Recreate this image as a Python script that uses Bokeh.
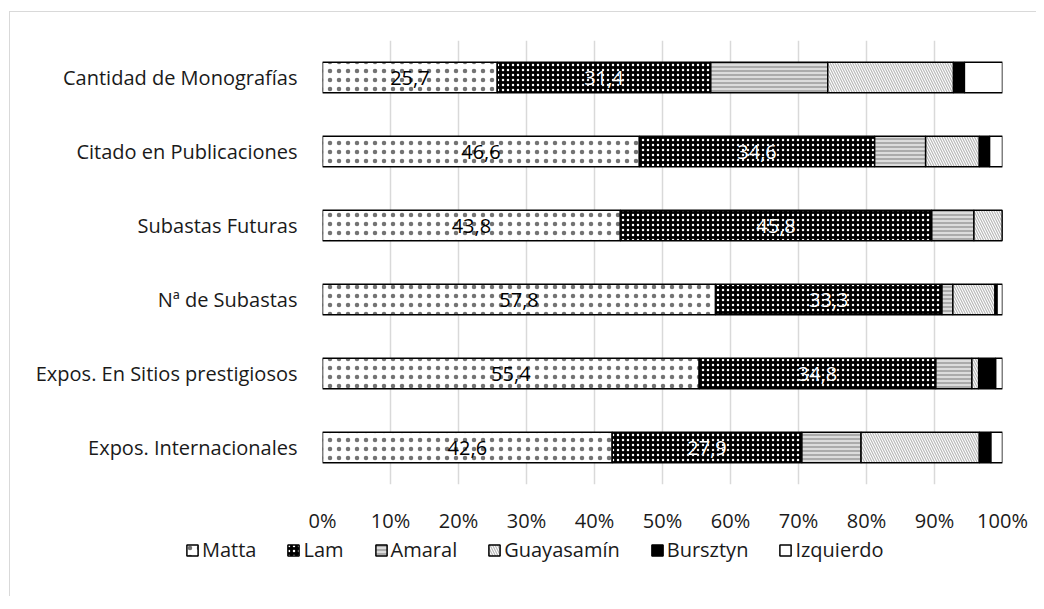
from bokeh.plotting import figure
from bokeh.models import FactorRange, Legend, LegendItem, ColumnDataSource, FixedTicker, CustomJSTickFormatter
from bokeh.layouts import column
from bokeh.core.properties import value
from bokeh.transform import stack
from bokeh.embed import file_html
from bokeh.resources import INLINE

categories = ["Cantidad de Monografías", "Citado en Publicaciones", "Subastas Futuras",
              "Nª de Subastas", "Expos. En Sitios prestigiosos", "Expos. Internacionales"]
series = ["Matta", "Lam", "Amaral", "Guayasamín", "Bursztyn", "Izquierdo"]
matta = [25.7, 46.6, 43.8, 57.8, 55.4, 42.6]
lam = [31.4, 34.6, 45.8, 33.3, 34.8, 27.9]
amaral = [17.2, 7.5, 6.2, 1.6, 5.3, 8.7]
guayasamin = [18.5, 7.9, 4.2, 6.2, 1.0, 17.4]
bursztyn = [1.6, 1.5, 0.0, 0.3, 2.5, 1.7]
izquierdo = [5.6, 1.9, 0.0, 0.8, 1.0, 1.7]
tick_values = [0, 10, 20, 30, 40, 50, 60, 70, 80, 90, 100]

FONT = "Open Sans"
FS = "20px"

data = {"cat": categories, "Matta": matta, "Lam": lam, "Amaral": amaral,
        "Guayasamín": guayasamin, "Bursztyn": bursztyn, "Izquierdo": izquierdo}
source = ColumnDataSource(data)

p = figure(width=1026, height=524, output_backend="svg", toolbar_location=None,
           y_range=FactorRange(factors=list(reversed(categories))), x_range=(0, 100),
           min_border_left=312, min_border_right=34, min_border_top=28, min_border_bottom=44)
p.outline_line_color = None
p.frame_align = False

styles = [
    dict(fill_color="white", hatch_pattern="dot", hatch_color="black", hatch_scale=9, hatch_alpha=0.55),
    dict(fill_color="black", hatch_pattern="dot", hatch_color="white", hatch_scale=5, hatch_weight=1),
    dict(fill_color="#dcdcdc", hatch_pattern="horizontal_line", hatch_color="#8f8f8f", hatch_scale=4, hatch_weight=1.3),
    dict(fill_color="white", hatch_pattern="left_diagonal_line", hatch_color="#b8b8b8", hatch_scale=5, hatch_weight=1.2),
    dict(fill_color="black"),
    dict(fill_color="white"),
]

renderers = []
for i, (name, st) in enumerate(zip(series, styles)):
    r = p.hbar(y="cat", left=stack(*series[:i]), right=stack(*series[:i + 1]), height=0.41,
               source=source, line_color="black", line_width=1.5, **st)
    renderers.append(r)

# data labels
lab_src = ColumnDataSource(dict(
    x=[m / 2 for m in matta] + [m + l / 2 for m, l in zip(matta, lam)],
    y=categories + categories,
    t=[f"{v:.1f}".replace(".", ",") for v in matta] + [f"{v:.1f}".replace(".", ",") for v in lam],
    c=["black"] * len(matta) + ["white"] * len(lam),
))
p.text(x="x", y="y", text="t", source=lab_src, text_color="c", text_align="center",
       text_baseline="middle", text_font=value(FONT), text_font_size=FS)

p.xaxis.ticker = FixedTicker(ticks=tick_values)
p.xaxis.formatter = CustomJSTickFormatter(code="return tick + '%';")
p.xgrid.ticker = FixedTicker(ticks=tick_values)
p.xgrid.grid_line_color = "#d9d9d9"
p.xgrid.grid_line_width = 1.5
p.ygrid.grid_line_color = None
for ax in (p.xaxis[0], p.yaxis[0]):
    ax.axis_line_color = None
    ax.major_tick_line_color = None
    ax.minor_tick_line_color = None
    ax.major_label_text_font = FONT
    ax.major_label_text_font_size = FS
    ax.major_label_text_color = "#1a1a1a"
p.xaxis.major_label_standoff = 16
p.yaxis.major_label_standoff = 19

# legend strip below the chart
lg = figure(width=1026, height=60, output_backend="svg", toolbar_location=None,
            x_axis_type=None, y_axis_type=None, x_range=(0, 1), y_range=(0, 1),
            min_border_left=0, min_border_right=0, min_border_top=0, min_border_bottom=0)
lg.outline_line_color = None
lg.grid.visible = False
lg.frame_align = False
offscreen = ColumnDataSource(dict(x=[-10], y=[-10]))
lrs = []
for st in styles:
    lrs.append(lg.rect(x="x", y="y", width=0.1, height=0.1, source=offscreen,
                       line_color="black", line_width=1.5, **st))
items = [LegendItem(label=s, renderers=[r]) for s, r in zip(series, lrs)]
legend = Legend(items=items, orientation="horizontal", location=(175, 33),
                label_text_font=FONT, label_text_font_size=FS, label_text_color="#1a1a1a",
                glyph_width=14, glyph_height=14, label_standoff=3, spacing=30,
                border_line_color=None, background_fill_alpha=0, padding=0, margin=0)
lg.add_layout(legend)

layout = column(p, lg, spacing=0, margin=(11, 0, 0, 9),
                styles={"border-left": "1px solid #d9d9d9", "border-top": "1px solid #d9d9d9"})
open("out.html", "w").write(file_html(layout, INLINE))
